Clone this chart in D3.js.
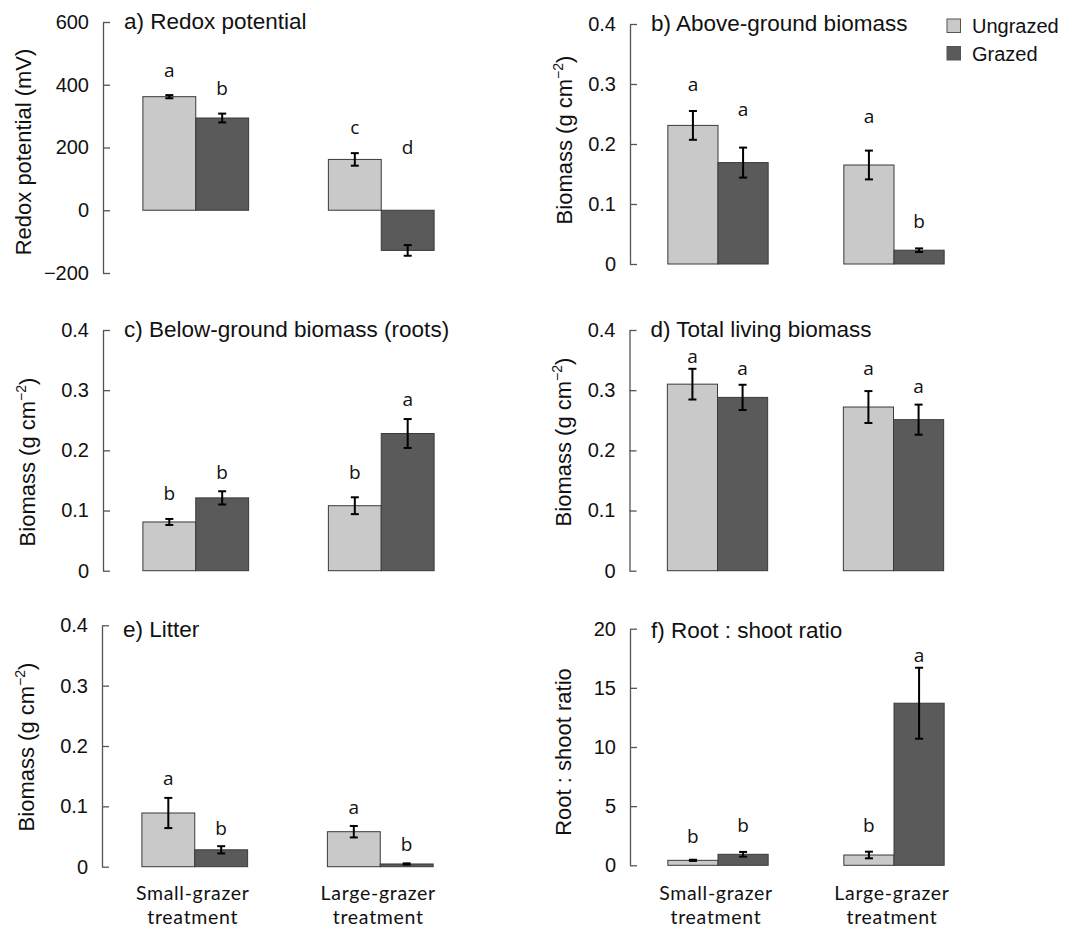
<!DOCTYPE html>
<html lang="en">
<head>
<meta charset="utf-8">
<title>Grazing treatment panels</title>
<script src="https://cdn.jsdelivr.net/npm/d3@7"></script>
<style>
  body { margin: 0; background: #fff; }
  svg text { font-family: "Liberation Sans", Arial, sans-serif; fill: #111; }
  .letter { font-family: "Open Sans", "Noto Sans", sans-serif; }
  .xlab { font-family: Lato, "Open Sans", sans-serif; letter-spacing: 0.7px; }
</style>
</head>
<body>
<script>

// categories
var groups = ["Small-grazer", "Large-grazer"];
var series = ["Ungrazed", "Grazed"];

// each array: [small ungrazed, small grazed, large ungrazed, large grazed]
var redoxMean = [362, 294, 162, -128];
var redoxErr = [5, 14, 20, 17];
var redoxLetters = ["a", "b", "c", "d"];
var redoxLetterAt = [443, 386, 262, 198];

var aboveMean = [0.231, 0.169, 0.165, 0.023];
var aboveErr = [0.024, 0.025, 0.024, 0.003];
var aboveLetters = ["a", "a", "a", "b"];
var aboveLetterAt = [0.298, 0.257, 0.245, 0.070];

var belowMean = [0.081, 0.121, 0.108, 0.228];
var belowErr = [0.005, 0.011, 0.014, 0.024];
var belowLetters = ["b", "b", "b", "a"];
var belowLetterAt = [0.127, 0.163, 0.163, 0.284];

var totalMean = [0.310, 0.288, 0.272, 0.251];
var totalErr = [0.0255, 0.021, 0.0265, 0.025];
var totalLetters = ["a", "a", "a", "a"];
var totalLetterAt = [0.355, 0.335, 0.335, 0.305];

var litterMean = [0.089, 0.028, 0.058, 0.0045];
var litterErr = [0.025, 0.006, 0.0095, 0.001];
var litterLetters = ["a", "b", "a", "b"];
var litterLetterAt = [0.145, 0.063, 0.098, 0.036];

var ratioMean = [0.42, 0.93, 0.87, 13.7];
var ratioErr = [0.05, 0.2, 0.28, 3.0];
var ratioLetters = ["b", "b", "b", "a"];
var ratioLetterAt = [2.4, 3.3, 3.3, 17.7];

// tick labels
var redoxTicks = [-200, 0, 200, 400, 600];
var biomassTicks = [0, 0.1, 0.2, 0.3, 0.4];
var ratioTicks = [0, 5, 10, 15, 20];

var colors = { "Ungrazed": "#c9c9c9", "Grazed": "#5a5a5a" };

var w = 1088, h = 930;
var svg = d3.select("body").append("svg")
  .attr("width", w)
  .attr("height", h);

var biomassTitle = "Biomass (g cm";
var bioFmt = function(d) { return d === 0 ? "0" : d3.format(".1f")(d); };

var panels = [
  { title: "a) Redox potential", mean: redoxMean, err: redoxErr, letters: redoxLetters, letterAt: redoxLetterAt,
    domain: [-200, 600], ticks: redoxTicks, fmt: d3.format("d"),
    left: 103, top: 22, bottom: 273, width: 371, titleY: 29.3,
    yTitle: "Redox potential (mV)", sup: false, yTitleX: 31, yTitleY: 152 },
  { title: "b) Above-ground biomass", mean: aboveMean, err: aboveErr, letters: aboveLetters, letterAt: aboveLetterAt,
    domain: [0, 0.4], ticks: biomassTicks, fmt: bioFmt,
    left: 630, top: 24, bottom: 264, width: 352, titleY: 30.7,
    yTitle: biomassTitle, sup: true, yTitleX: 571.5, yTitleY: 140 },
  { title: "c) Below-ground biomass (roots)", mean: belowMean, err: belowErr, letters: belowLetters, letterAt: belowLetterAt,
    domain: [0, 0.4], ticks: biomassTicks, fmt: bioFmt,
    left: 103, top: 330, bottom: 570.7, width: 371, titleY: 336.7,
    yTitle: biomassTitle, sup: true, yTitleX: 35, yTitleY: 462 },
  { title: "d) Total living biomass", mean: totalMean, err: totalErr, letters: totalLetters, letterAt: totalLetterAt,
    domain: [0, 0.4], ticks: biomassTicks, fmt: bioFmt,
    left: 629.5, top: 330, bottom: 570.7, width: 352, titleY: 336.7,
    yTitle: biomassTitle, sup: true, yTitleX: 571, yTitleY: 442 },
  { title: "e) Litter", mean: litterMean, err: litterErr, letters: litterLetters, letterAt: litterLetterAt,
    domain: [0, 0.4], ticks: biomassTicks, fmt: bioFmt,
    left: 102, top: 625.3, bottom: 866.7, width: 371, titleY: 636.7,
    yTitle: biomassTitle, sup: true, yTitleX: 34.3, yTitleY: 747, xLabels: true },
  { title: "f) Root : shoot ratio", mean: ratioMean, err: ratioErr, letters: ratioLetters, letterAt: ratioLetterAt,
    domain: [0, 20], ticks: ratioTicks, fmt: d3.format("d"),
    left: 630, top: 628.7, bottom: 865.3, width: 352, titleY: 638.3,
    yTitle: "Root : shoot ratio", sup: false, yTitleX: 570.7, yTitleY: 752, xLabels: true }
];

panels.forEach(function(p) {
  var g = svg.append("g").attr("transform", "translate(" + p.left + ",0)");

  var y = d3.scaleLinear().domain(p.domain).range([p.bottom, p.top]);
  var x0 = d3.scaleBand().domain(groups).range([0, p.width])
    .paddingInner(0.43).paddingOuter(0.215);
  var x1 = d3.scaleBand().domain(series).range([0, x0.bandwidth()]);

  // rows of data
  var rows = [];
  groups.forEach(function(gr, gi) {
    series.forEach(function(s, si) {
      var k = gi * 2 + si;
      rows.push({ group: gr, series: s, mean: p.mean[k], err: p.err[k],
                  letter: p.letters[k], letterAt: p.letterAt[k] });
    });
  });
  var cx = function(d) { return x0(d.group) + x1(d.series) + x1.bandwidth() / 2; };

  // axis
  var axis = d3.axisLeft(y).tickValues(p.ticks).tickFormat(p.fmt)
    .tickSizeInner(-7).tickSizeOuter(0).tickPadding(14);
  var ag = g.append("g").call(axis);
  ag.select(".domain").attr("stroke", "#555").attr("stroke-width", 1.3);
  ag.selectAll(".tick line").attr("stroke", "#555").attr("stroke-width", 1.3);
  ag.selectAll(".tick text")
    .attr("font-size", "20px")
    .attr("font-family", "'Liberation Sans', Arial, sans-serif")
    .attr("fill", "#111");

  // bars
  g.selectAll("rect.bar")
    .data(rows)
    .enter()
    .append("rect")
    .attr("class", "bar")
    .attr("x", function(d) { return x0(d.group) + x1(d.series); })
    .attr("y", function(d) { return y(Math.max(0, d.mean)); })
    .attr("width", x1.bandwidth())
    .attr("height", function(d) { return Math.abs(y(d.mean) - y(0)); })
    .attr("fill", function(d) { return colors[d.series]; })
    .attr("stroke", "#3a3a3a")
    .attr("stroke-width", 1);

  // error bars
  var eb = g.selectAll("g.err").data(rows).enter().append("g").attr("class", "err")
    .attr("stroke", "#000").attr("stroke-width", 2);
  eb.append("line")
    .attr("x1", cx).attr("x2", cx)
    .attr("y1", function(d) { return y(d.mean - d.err); })
    .attr("y2", function(d) { return y(d.mean + d.err); });
  eb.append("line")
    .attr("x1", function(d) { return cx(d) - 4; })
    .attr("x2", function(d) { return cx(d) + 4; })
    .attr("y1", function(d) { return y(d.mean + d.err); })
    .attr("y2", function(d) { return y(d.mean + d.err); });
  eb.append("line")
    .attr("x1", function(d) { return cx(d) - 4; })
    .attr("x2", function(d) { return cx(d) + 4; })
    .attr("y1", function(d) { return y(d.mean - d.err); })
    .attr("y2", function(d) { return y(d.mean - d.err); });

  // significance letters
  g.selectAll("text.letter")
    .data(rows)
    .enter()
    .append("text")
    .attr("class", "letter")
    .text(function(d) { return d.letter; })
    .attr("text-anchor", "middle")
    .attr("x", cx)
    .attr("y", function(d) { return y(d.letterAt); })
    .attr("dy", "0.32em")
    .attr("font-size", "19px");

  // panel title
  svg.append("text")
    .attr("x", p.left + 21)
    .attr("y", p.titleY)
    .attr("font-size", "22.5px")
    .text(p.title);

  // y-axis title
  var yt = svg.append("text")
    .attr("transform", "translate(" + p.yTitleX + "," + p.yTitleY + ") rotate(-90)")
    .attr("text-anchor", "middle")
    .attr("font-size", "22px");
  yt.append("tspan").text(p.yTitle);
  if (p.sup) {
    yt.append("tspan").text("\u22122").attr("font-size", "14px").attr("dy", "-9");
    yt.append("tspan").text(")").attr("dy", "9");
  }

  // category labels on the bottom row, two lines each
  if (p.xLabels) {
    var labX = function(d) { return x0(d) + x0.bandwidth() / 2 - 2; };
    g.selectAll("text.xlab1")
      .data(groups)
      .enter()
      .append("text")
      .attr("class", "xlab xlab1")
      .attr("text-anchor", "middle")
      .attr("font-size", "19.5px")
      .attr("x", labX)
      .attr("y", 900)
      .text(function(d) { return d; });
    g.selectAll("text.xlab2")
      .data(groups)
      .enter()
      .append("text")
      .attr("class", "xlab xlab2")
      .attr("text-anchor", "middle")
      .attr("font-size", "19.5px")
      .attr("x", labX)
      .attr("y", 923.5)
      .text("treatment");
  }
});

// legend
var legend = svg.append("g").attr("transform", "translate(947,19)");
legend.selectAll("rect")
  .data(series)
  .enter()
  .append("rect")
  .attr("x", 0)
  .attr("y", function(d, i) { return i * 27.5; })
  .attr("width", 13.5)
  .attr("height", 13.5)
  .attr("fill", function(d) { return colors[d]; })
  .attr("stroke", "#555")
  .attr("stroke-width", 1);
legend.selectAll("text")
  .data(series)
  .enter()
  .append("text")
  .attr("x", 25)
  .attr("y", function(d, i) { return i * 27.5 + 14; })
  .attr("font-size", "20px")
  .text(function(d) { return d; });

</script>
</body>
</html>
